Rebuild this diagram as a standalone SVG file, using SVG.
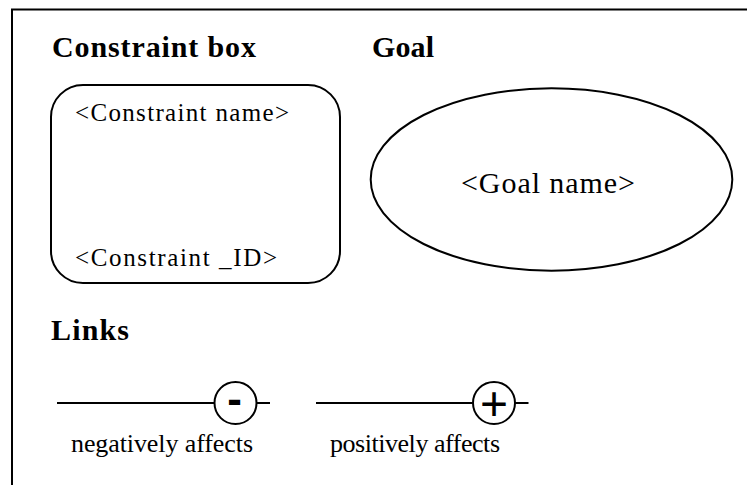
<svg xmlns="http://www.w3.org/2000/svg" width="747" height="485" viewBox="0 0 747 485">
<style>
.ln{fill:none;stroke:#000;stroke-width:2}
.serif{font-family:'Liberation Serif','Times New Roman',serif;fill:#000}
.sans{font-family:'Liberation Sans',Arial,sans-serif;fill:#000}
</style>
<rect width="747" height="485" fill="#fff"/>
<path class="ln" d="M12,485 V9.5 H747"/>
<g id="titles" class="serif" font-weight="bold" font-size="30">
<text x="52" y="57" textLength="204">Constraint box</text>
<text x="372" y="57" textLength="62">Goal</text>
<text x="51" y="340" textLength="78">Links</text>
</g>
<g id="constraint-box" class="serif" font-size="25">
<rect class="ln" x="51" y="85" width="289" height="198" rx="32" ry="32"/>
<text x="75" y="121" textLength="214">&lt;Constraint name&gt;</text>
<text x="75" y="266" textLength="202">&lt;Constraint _ID&gt;</text>
</g>
<g id="goal" class="serif" font-size="30">
<ellipse class="ln" cx="551.5" cy="179.5" rx="180.8" ry="91.2"/>
<text x="461" y="193" textLength="174">&lt;Goal name&gt;</text>
</g>
<g id="connectors" class="serif" font-size="26">
<g id="negative-link">
<line class="ln" x1="57" y1="403" x2="214.5" y2="403"/>
<circle class="ln" cx="235.5" cy="403" r="21"/>
<line class="ln" x1="256.5" y1="403" x2="270" y2="403"/>
<text class="sans" x="234.5" y="414" font-size="44" font-weight="bold" text-anchor="middle">-</text>
<text x="71" y="452" textLength="182">negatively affects</text>
</g>
<g id="positive-link">
<line class="ln" x1="316" y1="403" x2="472.5" y2="403"/>
<circle class="ln" cx="494" cy="403" r="21"/>
<line class="ln" x1="515" y1="403" x2="528.5" y2="403"/>
<text class="sans" x="494" y="419.5" font-size="48" text-anchor="middle">+</text>
<text x="330" y="452" textLength="170">positively affects</text>
</g>
</g>
</svg>
